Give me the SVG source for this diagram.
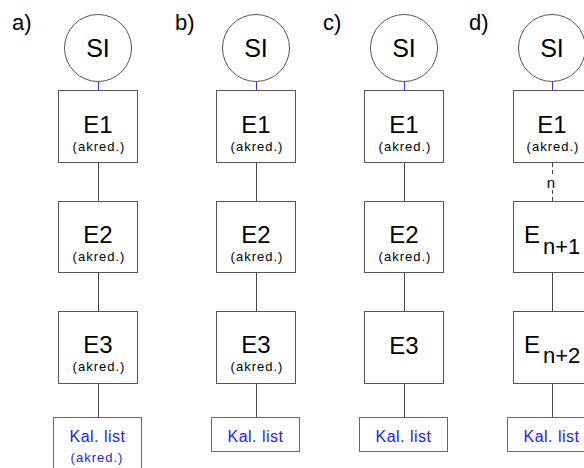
<svg xmlns="http://www.w3.org/2000/svg" width="584" height="468" viewBox="0 0 584 468">
<style>
.lbl{font-family:"Liberation Sans",Arial,sans-serif;font-size:22px;fill:#000}
.si{font-family:"Liberation Sans",Arial,sans-serif;font-size:25px;fill:#000;text-anchor:middle}
.e{font-family:"Liberation Sans",Arial,sans-serif;font-size:24px;fill:#000;text-anchor:middle}
.ed{font-family:"Liberation Sans",Arial,sans-serif;font-size:24px;fill:#000}
.ak{font-family:"Liberation Sans",Arial,sans-serif;font-size:13px;letter-spacing:1px;fill:#000;text-anchor:middle}
.kl{font-family:"Liberation Sans",Arial,sans-serif;font-size:16px;letter-spacing:0.5px;fill:#2222ee;text-anchor:middle}
.akb{font-family:"Liberation Sans",Arial,sans-serif;font-size:13px;letter-spacing:1px;fill:#2222ee;text-anchor:middle}
.n{font-family:"Liberation Sans",Arial,sans-serif;font-size:15px;fill:#000;text-anchor:middle}
.circ{fill:#fff;stroke:#555;stroke-width:1}
.box{fill:#fff;stroke:#555;stroke-width:1}
.kbox{fill:#fff;stroke:#5555ff;stroke-width:1}
.ln{stroke:#444;stroke-width:1;fill:none}
.bl{stroke:#3333ff;stroke-width:1;fill:none}
.dash{stroke:#444;stroke-width:1;fill:none;stroke-dasharray:4,3}
</style>
<rect width="584" height="468" fill="#fff"/>
<g id="labels">
<text class="lbl" x="12" y="30">a)</text>
<text class="lbl" x="175" y="30">b)</text>
<text class="lbl" x="323" y="30">c)</text>
<text class="lbl" x="469" y="30">d)</text>
</g>
<g id="connectors">
<line class="bl" x1="98.5" y1="81.5" x2="98.5" y2="90.5"/>
<line class="ln" x1="98.5" y1="162.5" x2="98.5" y2="201.5"/>
<line class="ln" x1="98.5" y1="272.5" x2="98.5" y2="311.5"/>
<line class="ln" x1="98.5" y1="383.5" x2="98.5" y2="417.5"/>
<line class="bl" x1="256.5" y1="81.5" x2="256.5" y2="90.5"/>
<line class="ln" x1="256.5" y1="162.5" x2="256.5" y2="201.5"/>
<line class="ln" x1="256.5" y1="272.5" x2="256.5" y2="311.5"/>
<line class="ln" x1="256.5" y1="383.5" x2="256.5" y2="417.5"/>
<line class="bl" x1="404.5" y1="81.5" x2="404.5" y2="90.5"/>
<line class="ln" x1="404.5" y1="162.5" x2="404.5" y2="201.5"/>
<line class="ln" x1="404.5" y1="272.5" x2="404.5" y2="311.5"/>
<line class="ln" x1="404.5" y1="383.5" x2="404.5" y2="417.5"/>
<line class="bl" x1="552.5" y1="81.5" x2="552.5" y2="90.5"/>
<line class="dash" x1="552.5" y1="163" x2="552.5" y2="177"/>
<line class="dash" x1="552.5" y1="190" x2="552.5" y2="201"/>
<text class="n" x="551" y="188">n</text>
<line class="ln" x1="552.5" y1="272.5" x2="552.5" y2="311.5"/>
<line class="ln" x1="552.5" y1="383.5" x2="552.5" y2="417.5"/>
</g>
<g id="a-SI"><circle class="circ" cx="98" cy="48" r="33.5"/><text class="si" x="98" y="57">SI</text></g>
<g id="a-E1"><rect class="box" x="58.5" y="90.5" width="79" height="72"/><text class="e" x="98" y="133">E1</text><text class="ak" x="99" y="151">(akred.)</text></g>
<g id="a-E2"><rect class="box" x="58.5" y="201.5" width="79" height="71"/><text class="e" x="98" y="243">E2</text><text class="ak" x="99" y="261">(akred.)</text></g>
<g id="a-E3"><rect class="box" x="58.5" y="311.5" width="79" height="72"/><text class="e" x="98" y="353">E3</text><text class="ak" x="99" y="371">(akred.)</text></g>
<g id="a-Kal"><rect class="kbox" x="53.5" y="417.5" width="88" height="60"/><text class="kl" x="97.5" y="442">Kal. list</text><text class="akb" x="97" y="462">(akred.)</text></g>

<g id="b-SI"><circle class="circ" cx="256" cy="48" r="33.5"/><text class="si" x="256" y="57">SI</text></g>
<g id="b-E1"><rect class="box" x="216.5" y="90.5" width="79" height="72"/><text class="e" x="256" y="133">E1</text><text class="ak" x="257" y="151">(akred.)</text></g>
<g id="b-E2"><rect class="box" x="216.5" y="201.5" width="79" height="71"/><text class="e" x="256" y="243">E2</text><text class="ak" x="257" y="261">(akred.)</text></g>
<g id="b-E3"><rect class="box" x="216.5" y="311.5" width="79" height="72"/><text class="e" x="256" y="353">E3</text><text class="ak" x="257" y="371">(akred.)</text></g>
<g id="b-Kal"><rect class="kbox" x="211.5" y="417.5" width="88" height="34"/><text class="kl" x="255.5" y="442">Kal. list</text></g>

<g id="c-SI"><circle class="circ" cx="404" cy="48" r="33.5"/><text class="si" x="404" y="57">SI</text></g>
<g id="c-E1"><rect class="box" x="364.5" y="90.5" width="79" height="72"/><text class="e" x="404" y="133">E1</text><text class="ak" x="405" y="151">(akred.)</text></g>
<g id="c-E2"><rect class="box" x="364.5" y="201.5" width="79" height="71"/><text class="e" x="404" y="243">E2</text><text class="ak" x="405" y="261">(akred.)</text></g>
<g id="c-E3"><rect class="box" x="364.5" y="311.5" width="79" height="72"/><text class="e" x="404" y="354">E3</text></g>
<g id="c-Kal"><rect class="kbox" x="359.5" y="417.5" width="88" height="34"/><text class="kl" x="403.5" y="442">Kal. list</text></g>

<g id="d-SI"><circle class="circ" cx="552" cy="48" r="33.5"/><text class="si" x="552" y="57">SI</text></g>
<g id="d-E1"><rect class="box" x="513.5" y="90.5" width="79" height="72"/><text class="e" x="552" y="133">E1</text><text class="ak" x="553" y="151">(akred.)</text></g>
<g id="d-En1"><rect class="box" x="513.5" y="201.5" width="79" height="71"/><text class="ed" x="524" y="243">E<tspan font-size="22" dx="3" dy="11">n+1</tspan></text></g>
<g id="d-En2"><rect class="box" x="513.5" y="311.5" width="79" height="72"/><text class="ed" x="524" y="353">E<tspan font-size="22" dx="3" dy="10">n+2</tspan></text></g>
<g id="d-Kal"><rect class="kbox" x="507.5" y="417.5" width="88" height="34"/><text class="kl" x="551.5" y="442">Kal. list</text></g>
</svg>
